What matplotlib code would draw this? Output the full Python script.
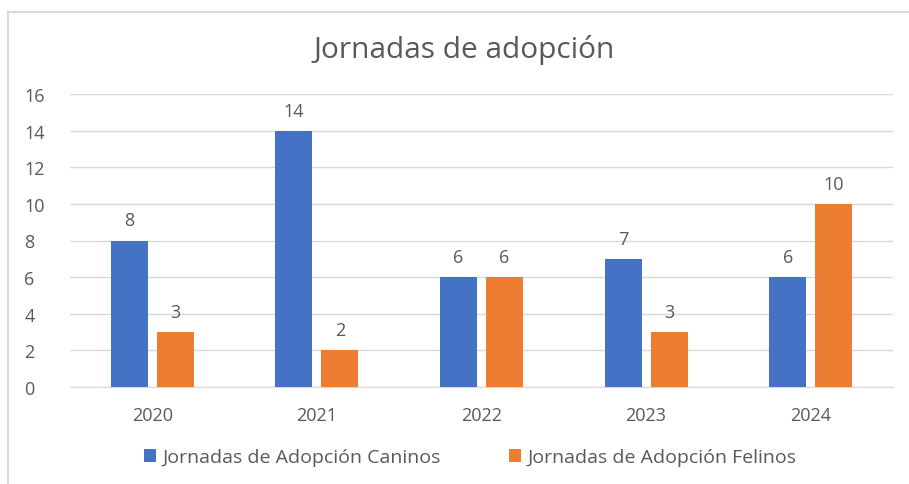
import matplotlib
matplotlib.use("Agg")
import matplotlib.pyplot as plt
import numpy as np
from matplotlib.lines import Line2D

years = ["2020", "2021", "2022", "2023", "2024"]
caninos = [8, 14, 6, 7, 6]
felinos = [3, 2, 6, 3, 10]
series_names = ["Jornadas de Adopción Caninos", "Jornadas de Adopción Felinos"]
title = "Jornadas de adopción"

blue = "#4472C4"
orange = "#ED7D31"
txt = "#595959"
plt.rcParams['font.family'] = ['Open Sans', 'DejaVu Sans']

fig = plt.figure(figsize=(9.09, 4.85), dpi=100)
ax = fig.add_axes([70/909, 1-388/485, 823/909, 293/485])

x = np.arange(len(years))
w = 0.225
off = 0.14
b1 = ax.bar(x - off, caninos, w, color=blue, label=series_names[0], zorder=3)
b2 = ax.bar(x + off, felinos, w, color=orange, label=series_names[1], zorder=3)
for bars in (b1, b2):
    for r in bars:
        ax.annotate(f"{int(r.get_height())}", (r.get_x() + r.get_width()/2, r.get_height()),
                    xytext=(0, 8), textcoords="offset points", ha="center", va="bottom",
                    fontsize=13, color=txt)

ax.set_xlim(-0.5, len(years) - 0.5)
ax.set_ylim(0, 16)
ax.set_yticks(np.arange(0, 17, 2))
ax.set_xticks(x)
ax.set_xticklabels(years)
ax.yaxis.grid(True, color="#D9D9D9", linewidth=1, zorder=0)
ax.tick_params(axis="both", length=0, labelsize=13, labelcolor=txt)
ax.tick_params(axis="x", pad=14)
ax.tick_params(axis="y", pad=33)
for lbl in ax.get_yticklabels():
    lbl.set_horizontalalignment("left")
for s in ["top", "right", "left"]:
    ax.spines[s].set_visible(False)
ax.spines["bottom"].set_color("#D9D9D9")

fig.text(0.511, 1-50/485, title, ha="center", va="center", fontsize=21.5, color=txt)

fig.legend(handles=[b1, b2], loc="center", bbox_to_anchor=(0.517, 1-458/485), ncol=2,
           frameon=False, fontsize=14, labelcolor=txt, handlelength=0.65, handleheight=0.65,
           handletextpad=0.3, columnspacing=3.5)

# outer chart border (top and left visible)
fig.add_artist(Line2D([8/909, 8/909], [0, 1-13/485], transform=fig.transFigure, color="#D9D9D9", lw=1.5))
fig.add_artist(Line2D([8/909, 1], [1-13/485, 1-13/485], transform=fig.transFigure, color="#D9D9D9", lw=1.5))

fig.savefig("out.png", dpi=100, facecolor="white")
